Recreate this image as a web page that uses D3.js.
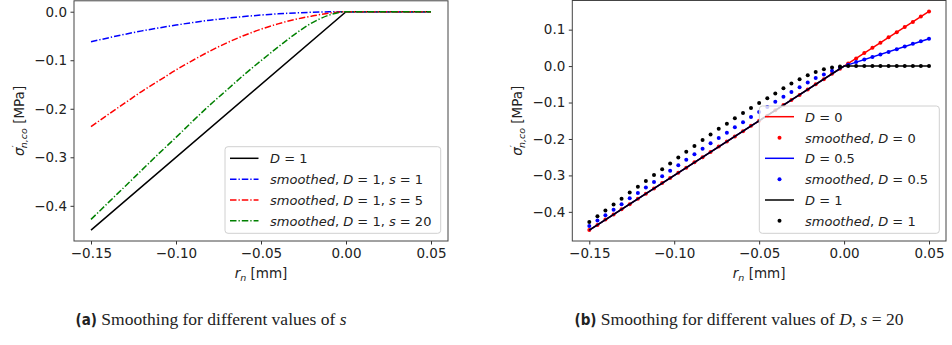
<!DOCTYPE html>
<html>
<head>
<meta charset="utf-8">
<script src="https://cdn.jsdelivr.net/npm/d3@7"></script>
<style>
body { margin: 0; background: #fff; }
text { font-family: "DejaVu Sans", sans-serif; fill: #222; }
</style>
</head>
<body>
<svg id="fig" width="952" height="345"></svg>
<script>
// ---- data ----
var xTicks = [-0.15, -0.10, -0.05, 0.00, 0.05];
var leftYTicks = [0.0, -0.1, -0.2, -0.3, -0.4];
var rightYTicks = [0.1, 0.0, -0.1, -0.2, -0.3, -0.4];

// panel (a): the kinked line and three smoothed curves
var kinkX = [-0.15, 0.0, 0.05];
var kinkD1 = [-0.45, 0.0, 0.0];
var kinkD05 = [-0.45, 0.0, 0.075];
var kinkD0 = [-0.45, 0.0, 0.15];

var curveX = [-0.15, -0.14, -0.13, -0.12, -0.11, -0.10, -0.09, -0.08, -0.07, -0.06, -0.05,
              -0.04, -0.03, -0.02, -0.01, 0.00, 0.01, 0.02, 0.03, 0.04, 0.05];
var curveS1 = [-0.0620, -0.0540, -0.0465, -0.0395, -0.0333, -0.0275, -0.0222, -0.0175, -0.0134, -0.0099, -0.0069,
               -0.0044, -0.0025, -0.0011, -0.0003, 0, 0, 0, 0, 0, 0];
var curveS5 = [-0.237, -0.212, -0.188, -0.164, -0.142, -0.120, -0.100, -0.081, -0.064, -0.049, -0.036,
               -0.025, -0.016, -0.009, -0.003, 0, 0, 0, 0, 0, 0];
var curveS20 = [-0.428, -0.394, -0.360, -0.326, -0.292, -0.259, -0.225, -0.192, -0.161, -0.130, -0.101,
                -0.073, -0.046, -0.023, -0.007, 0, 0, 0, 0, 0, 0];

// panel (b): smoothed points, s = 20
var dotX = [-0.1500, -0.1452, -0.1405, -0.1357, -0.1310, -0.1262, -0.1214, -0.1167, -0.1119, -0.1071,
            -0.1024, -0.0976, -0.0929, -0.0881, -0.0833, -0.0786, -0.0738, -0.0690, -0.0643, -0.0595,
            -0.0548, -0.0500, -0.0452, -0.0405, -0.0357, -0.0310, -0.0262, -0.0214, -0.0167, -0.0119,
            -0.0071, -0.0024, 0.0024, 0.0071, 0.0119, 0.0167, 0.0214, 0.0262, 0.0310, 0.0357,
            0.0405, 0.0452, 0.0500];
var dotD0 = [-0.450, -0.436, -0.421, -0.407, -0.393, -0.379, -0.364, -0.350, -0.336, -0.321,
             -0.307, -0.293, -0.279, -0.264, -0.250, -0.236, -0.221, -0.207, -0.193, -0.179,
             -0.164, -0.150, -0.136, -0.121, -0.107, -0.093, -0.079, -0.064, -0.050, -0.036,
             -0.021, -0.007, 0.007, 0.021, 0.036, 0.050, 0.064, 0.079, 0.093, 0.107,
             0.121, 0.136, 0.150];
var dotD05 = [-0.439, -0.424, -0.409, -0.394, -0.379, -0.363, -0.348, -0.333, -0.318, -0.302,
              -0.287, -0.272, -0.257, -0.242, -0.227, -0.212, -0.197, -0.183, -0.168, -0.154,
              -0.140, -0.126, -0.112, -0.098, -0.084, -0.071, -0.058, -0.045, -0.033, -0.023,
              -0.013, -0.004, 0.004, 0.011, 0.018, 0.025, 0.032, 0.039, 0.046, 0.054,
              0.061, 0.068, 0.075];
var dotD1 = [-0.428, -0.412, -0.396, -0.380, -0.364, -0.347, -0.331, -0.315, -0.299, -0.283,
             -0.267, -0.251, -0.235, -0.219, -0.203, -0.188, -0.172, -0.158, -0.143, -0.129,
             -0.115, -0.101, -0.088, -0.075, -0.061, -0.048, -0.036, -0.025, -0.016, -0.009,
             -0.004, -0.001, 0, 0, 0, 0, 0, 0, 0, 0,
             0, 0, 0];

var dashdot = "6.5,2,1.3,2";
var lw = 1.5;

var svg = d3.select("#fig");
svg.append("rect").attr("width", 952).attr("height", 345).attr("fill", "#fff");

function zip(xs, ys) {
    return xs.map(function (x, i) { return [x, ys[i]]; });
}

// axes frame, ticks and labels for one panel
function drawAxes(g, x, y, yTicks, ylabX) {
    var xr = x.range(), yr = y.range();
    g.append("g")
        .attr("transform", "translate(0," + yr[0] + ")")
        .call(d3.axisBottom(x).tickValues(xTicks).tickFormat(d3.format(".2f")).tickSize(3.5).tickPadding(3.5))
        .call(function (a) { a.select(".domain").remove(); });
    g.append("g")
        .attr("transform", "translate(" + xr[0] + ",0)")
        .call(d3.axisLeft(y).tickValues(yTicks).tickFormat(d3.format(".1f")).tickSize(3.5).tickPadding(3.5))
        .call(function (a) { a.select(".domain").remove(); });
    g.selectAll(".tick text").attr("font-size", 13.5).attr("font-family", "DejaVu Sans").attr("fill", "#222");
    g.selectAll(".tick line").attr("stroke", "#333");
    g.append("rect")
        .attr("x", xr[0]).attr("y", yr[1])
        .attr("width", xr[1] - xr[0]).attr("height", yr[0] - yr[1])
        .attr("fill", "none").attr("stroke", "#444").attr("stroke-width", 1);

    // x label: r_n [mm]
    var xl = g.append("text")
        .attr("x", (xr[0] + xr[1]) / 2).attr("y", 278)
        .attr("text-anchor", "middle").attr("font-size", 13.5);
    xl.append("tspan").attr("font-style", "italic").text("r");
    xl.append("tspan").attr("font-style", "italic").attr("font-size", 9.5).attr("dy", 3).text("n");
    xl.append("tspan").attr("dy", -3).text(" [mm]");

    // y label: sigma'_{n,co} [MPa]
    var yl = g.append("text")
        .attr("transform", "translate(" + ylabX + "," + (yr[0] + yr[1]) / 2 + ") rotate(-90)")
        .attr("text-anchor", "middle").attr("font-size", 13.5);
    yl.append("tspan").attr("font-style", "italic").text("σ");
    yl.append("tspan").attr("font-size", 9.5).attr("dy", -5).text("′");
    yl.append("tspan").attr("font-style", "italic").attr("font-size", 9.5).attr("dx", -3).attr("dy", 8).text("n,co");
    yl.append("tspan").attr("dy", -3).text(" [MPa]");
}

// math-like legend label: parts alternate style
function mathLabel(t, parts) {
    parts.forEach(function (p) {
        t.append("tspan").attr("font-style", p[1] ? "italic" : "normal").text(p[0]);
    });
}

function legendBox(g, x0, y0, x1, y1) {
    g.append("rect")
        .attr("x", x0).attr("y", y0).attr("width", x1 - x0).attr("height", y1 - y0)
        .attr("rx", 3).attr("fill", "#fff").attr("fill-opacity", 0.8)
        .attr("stroke", "#d0d0d0").attr("stroke-width", 1);
}

// ---------------- panel (a) ----------------
var xa = d3.scaleLinear().domain([-0.16, 0.06]).range([74, 448]);
var ya = d3.scaleLinear().domain([-0.4725, 0.0225]).range([241, 0.8]);
var ga = svg.append("g");

var lineA = d3.line().x(function (d) { return xa(d[0]); }).y(function (d) { return ya(d[1]); });
var smoothA = d3.line().curve(d3.curveMonotoneX)
    .x(function (d) { return xa(d[0]); }).y(function (d) { return ya(d[1]); });

var seriesA = [
    { pts: zip(kinkX, kinkD1), color: "#000", dash: null, gen: lineA },
    { pts: zip(curveX, curveS1), color: "#0000ff", dash: dashdot, gen: smoothA },
    { pts: zip(curveX, curveS5), color: "#ff0000", dash: dashdot, gen: smoothA },
    { pts: zip(curveX, curveS20), color: "#008000", dash: dashdot, gen: smoothA }
];
seriesA.forEach(function (s) {
    ga.append("path")
        .attr("d", s.gen(s.pts))
        .attr("fill", "none").attr("stroke", s.color).attr("stroke-width", lw)
        .attr("stroke-dasharray", s.dash);
});
drawAxes(ga, xa, ya, leftYTicks, 24);

legendBox(ga, 225, 146.7, 440.7, 233.3);
var legA = [
    [[["D", 1], [" = 1", 0]], "#000", null],
    [[["smoothed", 1], [", ", 0], ["D", 1], [" = 1, ", 0], ["s", 1], [" = 1", 0]], "#0000ff", dashdot],
    [[["smoothed", 1], [", ", 0], ["D", 1], [" = 1, ", 0], ["s", 1], [" = 5", 0]], "#ff0000", dashdot],
    [[["smoothed", 1], [", ", 0], ["D", 1], [" = 1, ", 0], ["s", 1], [" = 20", 0]], "#008000", dashdot]
];
var legAy = [158.3, 179.3, 200, 220.7];
legA.forEach(function (e, i) {
    ga.append("line")
        .attr("x1", 230).attr("x2", 258.5).attr("y1", legAy[i]).attr("y2", legAy[i])
        .attr("stroke", e[1]).attr("stroke-width", lw).attr("stroke-dasharray", e[2]);
    var t = ga.append("text").attr("x", 270).attr("y", legAy[i] + 4.8).attr("font-size", 13);
    mathLabel(t, e[0]);
});

// ---------------- panel (b) ----------------
var xb = d3.scaleLinear().domain([-0.16, 0.06]).range([572.3, 946]);
var yb = d3.scaleLinear().domain([-0.48, 0.18]).range([241, 0.5]);
var gb = svg.append("g");
var lineB = d3.line().x(function (d) { return xb(d[0]); }).y(function (d) { return yb(d[1]); });

var seriesB = [
    { line: kinkD0, dots: dotD0, color: "#ff0000" },
    { line: kinkD05, dots: dotD05, color: "#0000ff" },
    { line: kinkD1, dots: dotD1, color: "#000" }
];
seriesB.forEach(function (s) {
    gb.append("path")
        .attr("d", lineB(zip(kinkX, s.line)))
        .attr("fill", "none").attr("stroke", s.color).attr("stroke-width", lw);
    gb.append("g").selectAll("circle")
        .data(zip(dotX, s.dots))
        .enter().append("circle")
        .attr("cx", function (d) { return xb(d[0]); })
        .attr("cy", function (d) { return yb(d[1]); })
        .attr("r", 2)
        .attr("fill", s.color);
});
drawAxes(gb, xb, yb, rightYTicks, 522);

legendBox(gb, 759.3, 106, 939.3, 233.3);
var legB = [
    [[["D", 1], [" = 0", 0]], "#ff0000", "line"],
    [[["smoothed", 1], [", ", 0], ["D", 1], [" = 0", 0]], "#ff0000", "dot"],
    [[["D", 1], [" = 0.5", 0]], "#0000ff", "line"],
    [[["smoothed", 1], [", ", 0], ["D", 1], [" = 0.5", 0]], "#0000ff", "dot"],
    [[["D", 1], [" = 1", 0]], "#000", "line"],
    [[["smoothed", 1], [", ", 0], ["D", 1], [" = 1", 0]], "#000", "dot"]
];
var legBy = [116.7, 137.7, 158.3, 179.3, 200, 220.7];
legB.forEach(function (e, i) {
    if (e[2] === "line") {
        gb.append("line")
            .attr("x1", 765).attr("x2", 794).attr("y1", legBy[i]).attr("y2", legBy[i])
            .attr("stroke", e[1]).attr("stroke-width", lw);
    } else {
        gb.append("circle").attr("cx", 779.5).attr("cy", legBy[i]).attr("r", 2).attr("fill", e[1]);
    }
    var t = gb.append("text").attr("x", 805).attr("y", legBy[i] + 4.8).attr("font-size", 13);
    mathLabel(t, e[0]);
});

// ---------------- captions ----------------
function caption(cx, tag, parts) {
    var t = svg.append("text")
        .attr("x", cx).attr("y", 325).attr("text-anchor", "middle")
        .attr("font-size", 17.5).style("font-family", "'Liberation Serif', serif").attr("fill", "#111");
    t.append("tspan").attr("font-weight", "bold")
        .style("font-family", "'DejaVu Sans Condensed', 'Liberation Sans Narrow', sans-serif")
        .attr("font-size", 15).text(tag);
    parts.forEach(function (p) {
        t.append("tspan").attr("font-style", p[1] ? "italic" : "normal").text(p[0]);
    });
}
caption(211, "(a)", [[" Smoothing for different values of ", 0], ["s", 1]]);
caption(739, "(b)", [[" Smoothing for different values of ", 0], ["D", 1], [", ", 0], ["s", 1], [" = 20", 0]]);
</script>
</body>
</html>
